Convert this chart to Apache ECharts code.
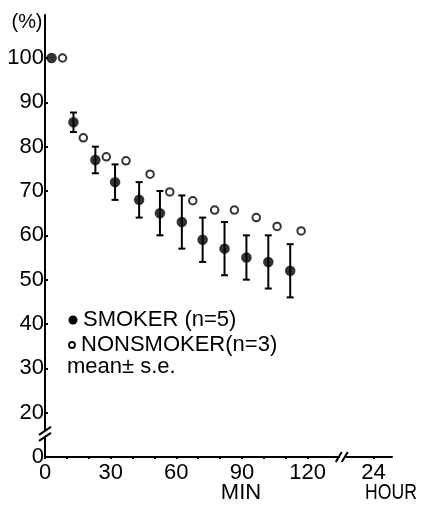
<!DOCTYPE html>
<html><head><meta charset="utf-8">
<script src="https://cdn.jsdelivr.net/npm/echarts@6/dist/echarts.min.js"></script>
<style>html,body{margin:0;padding:0;background:#fff}#c{width:424px;height:508px}</style>
</head><body><div id="c"></div>
<script>
// ---- data ----
const smokerMin = [3, 13, 23, 32, 43, 52.5, 62.5, 72, 82, 92, 102, 112];
const smokerMean = [100, 85.5, 77, 72, 68, 65, 63, 59, 57, 55, 54, 52];
const smokerSE = [0, 2.2, 3, 4, 4, 5, 6, 5, 6, 5, 6, 6];
const nonsmokerMin = [8, 17.5, 28, 37, 48, 57, 67.5, 77.5, 86.5, 96.5, 106, 117];
const nonsmokerMean = [100, 82, 77.7, 76.8, 73.8, 69.8, 67.8, 65.7, 65.7, 64, 62, 61];
const yTickLabels = [0, 20, 30, 40, 50, 60, 70, 80, 90, 100];
const xMinTicks = [0, 10, 20, 30, 40, 50, 60, 70, 80, 90, 100, 110, 120];
const xMinLabels = [0, 30, 60, 90, 120];
const xHourLabel = 24;
const legendTexts = ['SMOKER (n=5)', 'NONSMOKER(n=3)', 'mean\u00b1 s.e.'];

// broken axes: y 0..20 squeezed into one 10-unit step, 24 h placed after a break at 150 min-units
const HOUR_POS = 150;
const yMap = v => (v < 20 ? 10 + v / 2 : v);
const yUnmap = d => (d <= 20 ? (d - 10) * 2 : d);

const FONT = 'Liberation Sans';
const chart = echarts.init(document.getElementById('c'), null, {renderer: 'canvas'});

const yTickDisp = yTickLabels.map(yMap);
const xTickDisp = xMinTicks.concat([HOUR_POS]);
const xLabelDisp = xMinLabels.concat([HOUR_POS]);

const smokerData = smokerMin.map((x, i) => [x, yMap(smokerMean[i])]);
const nonData = nonsmokerMin.map((x, i) => [x, yMap(nonsmokerMean[i])]);
const errData = smokerMin.map((x, i) => [x, yMap(smokerMean[i] - smokerSE[i]), yMap(smokerMean[i] + smokerSE[i]), smokerSE[i]]);

const option = {
  animation: false,
  backgroundColor: '#fff',
  grid: {left: 45, right: 32, top: 15, bottom: 51, containLabel: false},
  xAxis: {
    type: 'value', min: 0, max: 158.5,
    splitLine: {show: false},
    axisLine: {lineStyle: {color: '#000', width: 2}},
    axisTick: {customValues: xTickDisp, length: 2, inside: false, lineStyle: {color: '#000', width: 2}},
    axisLabel: {
      customValues: xLabelDisp, margin: 5,
      formatter: v => (v === HOUR_POS ? String(xHourLabel) : String(v)),
      color: '#000', fontSize: 22, fontFamily: FONT
    }
  },
  yAxis: {
    type: 'value', min: 10, max: 109.7,
    splitLine: {show: false},
    axisLine: {lineStyle: {color: '#000', width: 2}},
    axisTick: {customValues: yTickDisp, length: 3, inside: true, lineStyle: {color: '#000', width: 2}},
    axisLabel: {
      customValues: yTickDisp, margin: 1,
      formatter: v => String(Math.round(yUnmap(v))),
      color: '#000', fontSize: 22, fontFamily: FONT
    }
  },
  series: [
    {
      type: 'custom', name: 'se',
      renderItem: function (params, api) {
        if (api.value(3) <= 0) return null;
        const x = api.value(0);
        const lo = api.coord([x, api.value(1)]);
        const hi = api.coord([x, api.value(2)]);
        const w = 3.5;
        const st = {stroke: '#000', lineWidth: 2};
        return {type: 'group', children: [
          {type: 'line', shape: {x1: hi[0], y1: hi[1], x2: lo[0], y2: lo[1]}, style: st},
          {type: 'line', shape: {x1: hi[0] - w, y1: hi[1], x2: hi[0] + w, y2: hi[1]}, style: st},
          {type: 'line', shape: {x1: lo[0] - w, y1: lo[1], x2: lo[0] + w, y2: lo[1]}, style: st}
        ]};
      },
      data: errData, z: 2
    },
    {
      type: 'scatter', name: 'SMOKER', data: smokerData,
      symbol: 'circle', symbolSize: 10.5,
      itemStyle: {color: '#000'}, z: 3
    },
    {
      type: 'scatter', name: 'NONSMOKER', data: nonData,
      symbol: 'circle', symbolSize: 7.5,
      itemStyle: {color: '#fff', borderColor: '#000', borderWidth: 2}, z: 3
    }
  ],
  graphic: [
    {type: 'text', x: 27, y: 22, scaleX: 0.95, style: {text: '(%)', fill: '#000', font: '21px ' + FONT, align: 'center', verticalAlign: 'middle'}},
    {type: 'text', x: 241, y: 493, style: {text: 'MIN', fill: '#000', font: '22px ' + FONT, align: 'center', verticalAlign: 'middle'}},
    {type: 'text', x: 391, y: 493, scaleX: 0.8, style: {text: 'HOUR', fill: '#000', font: '22px ' + FONT, align: 'center', verticalAlign: 'middle'}},
    {type: 'circle', shape: {cx: 73, cy: 320, r: 4.5}, style: {fill: '#000'}},
    {type: 'text', x: 83, y: 320, style: {text: legendTexts[0], fill: '#000', font: '22px ' + FONT, verticalAlign: 'middle'}},
    {type: 'circle', shape: {cx: 72, cy: 345, r: 3}, style: {fill: '#fff', stroke: '#000', lineWidth: 1.8}},
    {type: 'text', x: 81, y: 345, style: {text: legendTexts[1], fill: '#000', font: '22px ' + FONT, verticalAlign: 'middle'}},
    {type: 'text', x: 67, y: 367, style: {text: legendTexts[2], fill: '#000', font: '22px ' + FONT, verticalAlign: 'middle'}}
  ]
};
chart.setOption(option);

// break marks on both axes
const xb = chart.convertToPixel({gridIndex: 0}, [136, 10]);
const yb = chart.convertToPixel({gridIndex: 0}, [0, 15.2]);
const st = {stroke: '#000', lineWidth: 2};
const extra = option.graphic.concat([
  {type: 'rect', shape: {x: xb[0] - 3, y: xb[1] - 3, width: 6, height: 6}, style: {fill: '#fff'}, z: 100},
  {type: 'line', shape: {x1: xb[0] - 7, y1: xb[1] + 5, x2: xb[0] - 1, y2: xb[1] - 5}, style: st, z: 101},
  {type: 'line', shape: {x1: xb[0] - 1, y1: xb[1] + 5, x2: xb[0] + 5, y2: xb[1] - 5}, style: st, z: 101},
  {type: 'rect', shape: {x: yb[0] - 3, y: yb[1] - 3, width: 6, height: 6}, style: {fill: '#fff'}, z: 100},
  {type: 'line', shape: {x1: yb[0] - 6, y1: yb[1] + 1, x2: yb[0] + 6, y2: yb[1] - 7}, style: st, z: 101},
  {type: 'line', shape: {x1: yb[0] - 6, y1: yb[1] + 7, x2: yb[0] + 6, y2: yb[1] - 1}, style: st, z: 101}
]);
chart.setOption({graphic: extra}, {replaceMerge: ['graphic']});
</script>
</body></html>
